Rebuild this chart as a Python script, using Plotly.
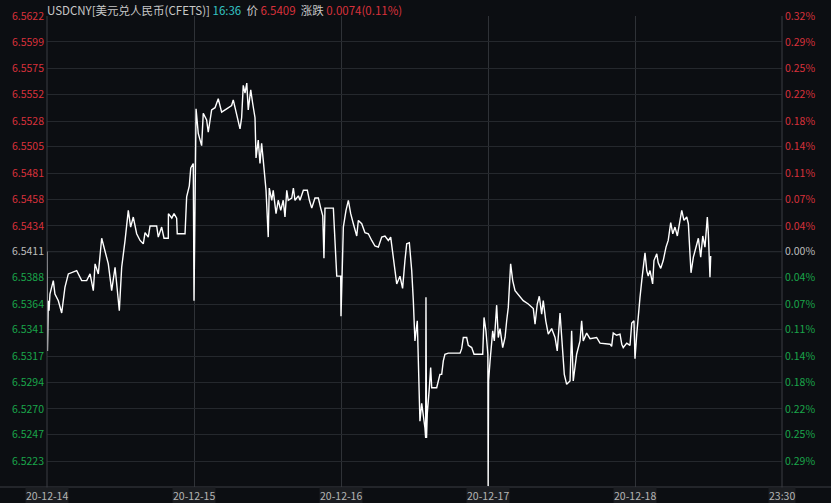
import plotly.graph_objects as go

# ---------------- data ----------------
# time in trading days from 20-12-14 00:00 (0 = 20-12-14, 5 = end 23:30 of last day)
t_days = [0.000, 0.003, 0.009, 0.014, 0.020, 0.043, 0.054, 0.077, 0.100, 0.122,
          0.145, 0.168, 0.202, 0.236, 0.270, 0.293, 0.315, 0.327, 0.349, 0.372,
          0.395, 0.417, 0.440, 0.463, 0.492, 0.508, 0.531, 0.553, 0.569, 0.587,
          0.610, 0.633, 0.655, 0.667, 0.689, 0.701, 0.746, 0.757, 0.780, 0.796,
          0.825, 0.826, 0.849, 0.864, 0.882, 0.886, 0.939, 0.950, 0.968, 0.978,
          0.995, 1.000,
          1.014, 1.029, 1.052, 1.063, 1.086, 1.097, 1.120, 1.143, 1.165, 1.188,
          1.222, 1.256, 1.267, 1.290, 1.313, 1.324, 1.335, 1.347, 1.359, 1.369,
          1.386, 1.399, 1.415, 1.422, 1.437, 1.449, 1.460, 1.471, 1.490, 1.505,
          1.512, 1.529, 1.539, 1.558, 1.573, 1.590, 1.607, 1.619, 1.631, 1.641,
          1.665, 1.676, 1.687, 1.710, 1.721, 1.744, 1.771, 1.785, 1.801, 1.823,
          1.846, 1.862, 1.876, 1.884, 1.891, 1.948, 1.959, 1.971, 1.998, 2.000,
          2.016, 2.034, 2.050, 2.066, 2.084, 2.107, 2.118, 2.141, 2.163, 2.186,
          2.209, 2.231, 2.254, 2.277, 2.299, 2.322, 2.338, 2.356, 2.367, 2.379,
          2.401, 2.419, 2.435, 2.447, 2.465, 2.481, 2.492, 2.503, 2.519, 2.526,
          2.537, 2.549, 2.560, 2.571, 2.576, 2.578, 2.582, 2.587, 2.601, 2.610,
          2.617, 2.651, 2.662, 2.673, 2.685, 2.696, 2.707, 2.730, 2.810, 2.821,
          2.832, 2.855, 2.866, 2.889, 2.905, 2.964, 2.973, 2.986, 2.999, 3.001,
          3.004, 3.014, 3.032, 3.043, 3.059, 3.070, 3.082, 3.100, 3.116, 3.127,
          3.138, 3.154, 3.168, 3.184, 3.218, 3.240, 3.274, 3.308, 3.320, 3.335,
          3.349, 3.365, 3.376, 3.393, 3.410, 3.433, 3.456, 3.471, 3.490, 3.508,
          3.519, 3.535, 3.558, 3.569, 3.580, 3.603, 3.626, 3.637, 3.648, 3.671,
          3.694, 3.739, 3.762, 3.830, 3.841, 3.852, 3.875, 3.898, 3.910, 3.920,
          3.944, 3.966, 3.978, 3.993, 4.000,
          4.012, 4.022, 4.034, 4.046, 4.056, 4.068, 4.080, 4.090, 4.102, 4.120,
          4.129, 4.148, 4.158, 4.175, 4.192, 4.211, 4.226, 4.243, 4.257, 4.272,
          4.288, 4.306, 4.318, 4.333, 4.352, 4.363, 4.374, 4.381, 4.397, 4.415,
          4.431, 4.447, 4.461, 4.476, 4.492, 4.499, 4.510, 4.515]

price = [6.5411, 6.5322, 6.5367, 6.5358, 6.5373, 6.5385, 6.5373, 6.5367, 6.5356, 6.5379,
         6.5391, 6.5392, 6.5394, 6.5385, 6.5385, 6.5391, 6.5376, 6.5400, 6.5391, 6.5423,
         6.5412, 6.5400, 6.5376, 6.5397, 6.5358, 6.5397, 6.5421, 6.5448, 6.5433, 6.5442,
         6.5427, 6.5421, 6.5418, 6.5428, 6.5424, 6.5434, 6.5434, 6.5424, 6.5433, 6.5423,
         6.5423, 6.5445, 6.5441, 6.5445, 6.5441, 6.5427, 6.5427, 6.5460, 6.5470, 6.5486,
         6.5490, 6.5367,
         6.5539, 6.5517, 6.5506, 6.5535, 6.5529, 6.5518, 6.5538, 6.5540, 6.5548, 6.5536,
         6.5539, 6.5542, 6.5547, 6.5535, 6.5521, 6.5531, 6.5560, 6.5553, 6.5562, 6.5538,
         6.5556, 6.5544, 6.5531, 6.5495, 6.5511, 6.5490, 6.5508, 6.5493, 6.5466, 6.5424,
         6.5468, 6.5457, 6.5466, 6.5445, 6.5457, 6.5448, 6.5457, 6.5442, 6.5466, 6.5457,
         6.5459, 6.5468, 6.5457, 6.5461, 6.5457, 6.5466, 6.5466, 6.5457, 6.5450, 6.5459,
         6.5459, 6.5450, 6.5443, 6.5405, 6.5450, 6.5450, 6.5424, 6.5389, 6.5389, 6.5353,
         6.5433, 6.5448, 6.5457, 6.5445, 6.5436, 6.5425, 6.5439, 6.5436, 6.5428, 6.5427,
         6.5421, 6.5416, 6.5415, 6.5424, 6.5425, 6.5421, 6.5424, 6.5403, 6.5394, 6.5382,
         6.5389, 6.5378, 6.5403, 6.5418, 6.5419, 6.5394, 6.5367, 6.5331, 6.5349, 6.5307,
         6.5259, 6.5275, 6.5266, 6.5253, 6.5244, 6.5370, 6.5244, 6.5266, 6.5289, 6.5307,
         6.5289, 6.5289, 6.5295, 6.5301, 6.5301, 6.5313, 6.5319, 6.5320, 6.5320, 6.5324,
         6.5334, 6.5334, 6.5327, 6.5325, 6.5319, 6.5319, 6.5352, 6.5340, 6.5319, 6.5201,
         6.5295, 6.5313, 6.5340, 6.5331, 6.5363, 6.5334, 6.5342, 6.5325, 6.5334, 6.5349,
         6.5361, 6.5400, 6.5385, 6.5376, 6.5370, 6.5367, 6.5364, 6.5360, 6.5346, 6.5364,
         6.5371, 6.5355, 6.5367, 6.5349, 6.5337, 6.5342, 6.5334, 6.5322, 6.5356, 6.5325,
         6.5301, 6.5292, 6.5295, 6.5340, 6.5295, 6.5319, 6.5331, 6.5349, 6.5331, 6.5338,
         6.5333, 6.5334, 6.5329, 6.5328, 6.5326, 6.5338, 6.5336, 6.5337, 6.5328, 6.5325,
         6.5329, 6.5327, 6.5347, 6.5349, 6.5315,
         6.5337, 6.5355, 6.5370, 6.5385, 6.5397, 6.5410, 6.5394, 6.5389, 6.5394, 6.5382,
         6.5403, 6.5409, 6.5401, 6.5396, 6.5403, 6.5415, 6.5421, 6.5437, 6.5427, 6.5433,
         6.5425, 6.5439, 6.5448, 6.5439, 6.5442, 6.5436, 6.5403, 6.5392, 6.5406, 6.5414,
         6.5423, 6.5406, 6.5425, 6.5415, 6.5442, 6.5427, 6.5388, 6.5407]

base_price = 6.5411
price_tick_labels = ["6.5622", "6.5599", "6.5575", "6.5552", "6.5528", "6.5505",
                     "6.5481", "6.5458", "6.5434", "6.5411", "6.5388", "6.5364",
                     "6.5341", "6.5317", "6.5294", "6.5270", "6.5247", "6.5223"]
pct_tick_labels = ["0.32%", "0.29%", "0.25%", "0.22%", "0.18%", "0.14%",
                   "0.11%", "0.07%", "0.04%", "0.00%", "0.04%", "0.07%",
                   "0.11%", "0.14%", "0.18%", "0.22%", "0.25%", "0.29%"]
x_tick_vals = [0, 1, 2, 3, 4, 5]
x_tick_labels = ["20-12-14", "20-12-15", "20-12-16", "20-12-17", "20-12-18", "23:30"]
y_min, y_max = 6.5200, 6.56222

title_name = "USDCNY[美元兑人民币(CFETS)]"
title_time = "16:36"
title_price = "6.5409"
title_change = "0.0074(0.11%)"

# ---------------- style ----------------
BG = "#0c0e12"
RED = "#d8313b"
GREEN = "#1aa54a"
GRAY = "#bdbdbd"
GRID = "#25282d"
VGRID = "#2f3237"
FONT = "Noto Sans CJK SC"

tick_vals = [float(s) for s in price_tick_labels]


def colored(vals, labels):
    out = []
    for v, s in zip(vals, labels):
        if abs(v - base_price) < 1e-6:
            c = GRAY
        elif v > base_price:
            c = RED
        else:
            c = GREEN
        out.append(f'<span style="color:{c}">{s}</span>')
    return out


fig = go.Figure()
fig.add_trace(go.Scatter(x=t_days, y=price, mode="lines",
                         line=dict(color="#ffffff", width=1.4),
                         hoverinfo="skip", showlegend=False))
# invisible trace for right axis
fig.add_trace(go.Scatter(x=[t_days[0]], y=[price[0]], yaxis="y2", mode="lines",
                         line=dict(width=0), hoverinfo="skip", showlegend=False))

fig.update_layout(
    width=831, height=503,
    paper_bgcolor=BG, plot_bgcolor=BG,
    margin=dict(l=47, r=49, t=16, b=16, autoexpand=False),
    font=dict(family=FONT, size=11, color=GRAY),
    xaxis=dict(range=[0, 5], tickvals=x_tick_vals, showticklabels=False,
               showgrid=True, gridcolor=VGRID, gridwidth=1, zeroline=False,
               showline=False, fixedrange=True, automargin=False),
    yaxis=dict(range=[y_min, y_max], tickvals=tick_vals,
               ticktext=colored(tick_vals, price_tick_labels),
               showgrid=True, gridcolor=GRID, gridwidth=1, zeroline=False,
               showline=False, ticks="", ticklabelstandoff=2, automargin=False,
               tickfont=dict(size=10.5, family=FONT)),
    yaxis2=dict(range=[y_min, y_max], tickvals=tick_vals,
                ticktext=colored(tick_vals, pct_tick_labels),
                overlaying="y", side="right", showgrid=False, zeroline=False,
                showline=False, ticks="", ticklabelstandoff=2, automargin=False,
                tickfont=dict(size=10.5, family=FONT)),
)

shapes = [
    # baseline
    dict(type="line", xref="paper", yref="y", x0=0, x1=1, y0=base_price, y1=base_price,
         line=dict(color="#4d5055", width=1), layer="below"),
    # bottom axis line across whole width
    dict(type="line", xref="paper", yref="paper", x0=-47 / 735, x1=1 + 49 / 735, y0=0, y1=0,
         line=dict(color="#3a3d42", width=1)),
    # left / right frame lines
    dict(type="line", xref="paper", yref="paper", x0=0, x1=0, y0=-16 / 471, y1=1,
         line=dict(color="#3a3d42", width=1)),
    dict(type="line", xref="paper", yref="paper", x0=1, x1=1, y0=-16 / 471, y1=1,
         line=dict(color="#3a3d42", width=1)),
]
fig.update_layout(shapes=shapes)

annotations = []
for xv, lab in zip(x_tick_vals, x_tick_labels):
    annotations.append(dict(x=xv, xref="x", y=0, yref="paper", yanchor="top",
                            yshift=0, text=lab, showarrow=False,
                            bgcolor="#1b1d21", borderpad=0,
                            font=dict(size=10.5, color="#b5b5b5", family=FONT)))
title_html = (f'<span style="color:#c8c8c8">{title_name}</span> '
              f'<span style="color:#34c3c3">{title_time}</span>  '
              f'<span style="color:#c8c8c8">价</span> '
              f'<span style="color:{RED}">{title_price}</span>  '
              f'<span style="color:#c8c8c8">涨跌</span> '
              f'<span style="color:{RED}">{title_change}</span>')
annotations.append(dict(x=0, xref="paper", xanchor="left", xshift=-2,
                        y=1, yref="paper", yanchor="bottom", yshift=-4,
                        text=title_html, showarrow=False,
                        font=dict(size=11.5, family=FONT)))
fig.update_layout(annotations=annotations)

fig.write_html("out.html",
               config={"displayModeBar": False},
               post_script="document.body.style.margin='0';"
                           "document.body.style.background='#0c0e12';")
